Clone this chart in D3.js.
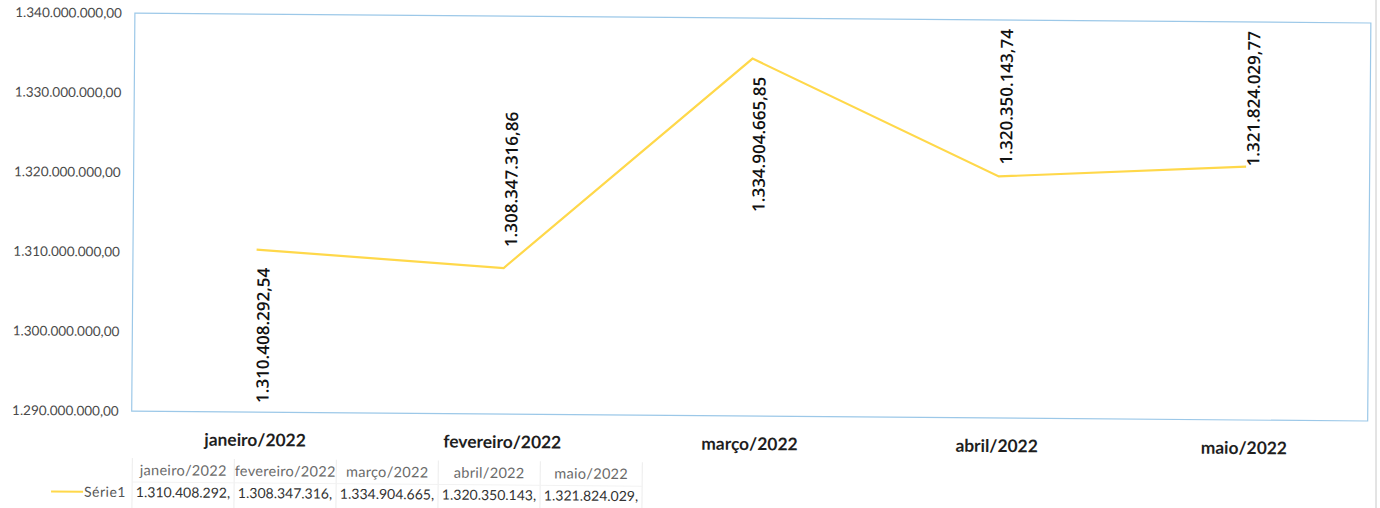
<!DOCTYPE html>
<html>
<head>
<meta charset="utf-8">
<script src="https://cdn.jsdelivr.net/npm/d3@7"></script>
<style>
body{margin:0;background:#fff;}
svg{display:block;}
</style>
</head>
<body>
<div id="chart"></div>
<script>
/* data */
var months = ["janeiro/2022", "fevereiro/2022", "março/2022", "abril/2022", "maio/2022"];
var values = [1310408292.54, 1308347316.86, 1334904665.85, 1320350143.74, 1321824029.77];
var labelSide = ["below", "above", "below", "above", "above"];
var yTicks = [1290000000, 1300000000, 1310000000, 1320000000, 1330000000, 1340000000];
var seriesName = "Série1";

var W = 1380, H = 508;
var plot = {left: 135, right: 1371, top: 12, bottom: 410};

var br = d3.formatLocale({decimal: ",", thousands: ".", grouping: [3], currency: ["R$", ""]});
var fmt = br.format(",.2f");

var svg = d3.select("#chart").append("svg")
	.attr("width", W)
	.attr("height", H);

// scanned page is a little tilted
var g = svg.append("g").attr("transform", "rotate(0.46)");

var x = d3.scaleBand().domain(months).range([plot.left, plot.right]);
var y = d3.scaleLinear().domain([1290000000, 1340000000]).range([plot.bottom, plot.top]);

// plot frame
g.append("rect")
	.attr("x", plot.left)
	.attr("y", plot.top)
	.attr("width", plot.right - plot.left)
	.attr("height", plot.bottom - plot.top)
	.attr("fill", "#fff")
	.attr("stroke", "#9cc8e8")
	.attr("stroke-width", 1.2);

// y axis labels
var yAxis = g.append("g")
	.attr("transform", "translate(" + (plot.left - 13) + ",0)")
	.call(d3.axisLeft(y).tickValues(yTicks).tickFormat(fmt).tickSize(0).tickPadding(0));
yAxis.select(".domain").remove();
yAxis.selectAll("text")
	.attr("font-family", "Lato")
	.attr("font-size", 13.5)
	.attr("fill", "#4a4a4a");

// category labels
g.selectAll(".cat")
	.data(months)
	.enter()
	.append("text")
	.attr("class", "cat")
	.attr("x", function(d){ return x(d) + x.bandwidth() / 2; })
	.attr("y", plot.bottom + 34)
	.attr("text-anchor", "middle")
	.attr("font-family", "Lato")
	.attr("font-weight", "bold")
	.attr("font-size", 17.4)
	.attr("fill", "#1e1e1e")
	.text(function(d){ return d; });

// the line
var line = d3.line()
	.x(function(d, i){ return x(months[i]) + x.bandwidth() / 2; })
	.y(function(d){ return y(d); });

g.append("path")
	.datum(values)
	.attr("d", line)
	.attr("fill", "none")
	.attr("stroke", "#ffd84a")
	.attr("stroke-width", 2.2);

// data labels, rotated
var labels = g.selectAll(".lbl")
	.data(values)
	.enter()
	.append("text")
	.attr("class", "lbl")
	.attr("font-family", "Open Sans")
	.attr("font-weight", 600)
	.attr("font-size", 17)
	.attr("fill", "#111")
	.attr("dy", "0.36em")
	.text(function(d){ return fmt(d); });

labels.each(function(d, i){
	var t = d3.select(this);
	var len = this.getComputedTextLength();
	var px = x(months[i]) + x.bandwidth() / 2 + 7;
	var py;
	if (labelSide[i] == "above") {
		py = y(d) - 21;
		if (py - len < plot.top + 9) { py = plot.top + 9 + len; }
		t.attr("text-anchor", "start");
	} else {
		py = y(d) + 18;
		t.attr("text-anchor", "end");
	}
	t.attr("transform", "translate(" + px + "," + py + ") rotate(-90)");
});

// data table under the chart
var colW = 102, tableLeft = 136;
var table = g.append("g");

table.selectAll(".vline")
	.data(d3.range(months.length + 1))
	.enter()
	.append("line")
	.attr("x1", function(d){ return tableLeft + d * colW; })
	.attr("x2", function(d){ return tableLeft + d * colW; })
	.attr("y1", 457)
	.attr("y2", 508)
	.attr("stroke", "#ececec");

table.append("line")
	.attr("x1", tableLeft).attr("x2", tableLeft + months.length * colW)
	.attr("y1", 481).attr("y2", 481)
	.attr("stroke", "#f2f2f2");

table.selectAll(".hdr")
	.data(months)
	.enter()
	.append("text")
	.attr("x", function(d, i){ return tableLeft + i * colW + colW / 2; })
	.attr("y", 474)
	.attr("text-anchor", "middle")
	.attr("font-family", "Lato")
	.attr("font-size", 14.5)
	.attr("letter-spacing", 0.3)
	.attr("fill", "#6a6a6a")
	.text(function(d){ return d; });

table.selectAll(".val")
	.data(values)
	.enter()
	.append("text")
	.attr("x", function(d, i){ return tableLeft + i * colW + colW / 2; })
	.attr("y", 496)
	.attr("text-anchor", "middle")
	.attr("font-family", "Lato")
	.attr("font-size", 14)
	.attr("fill", "#333")
	.text(function(d){ var s = fmt(d); return s.slice(0, s.indexOf(",") + 1); });

// legend key
table.append("line")
	.attr("x1", 55).attr("x2", 87)
	.attr("y1", 491).attr("y2", 491)
	.attr("stroke", "#ffd84a")
	.attr("stroke-width", 2);

table.append("text")
	.attr("x", 88)
	.attr("y", 496)
	.attr("font-family", "Lato")
	.attr("font-size", 14)
	.attr("letter-spacing", 0.5)
	.attr("fill", "#555")
	.text(seriesName);

// page edge on the right
svg.append("line")
	.attr("x1", 1376).attr("x2", 1376)
	.attr("y1", 0).attr("y2", H)
	.attr("stroke", "#c8c8c8");
</script>
</body>
</html>
